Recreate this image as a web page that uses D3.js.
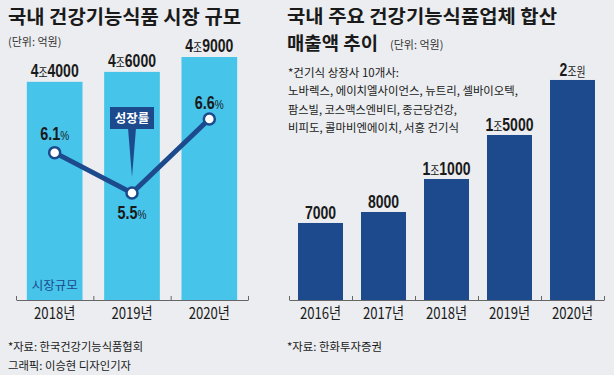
<!DOCTYPE html>
<html>
<head>
<meta charset="utf-8">
<script src="https://cdn.jsdelivr.net/npm/d3@7"></script>
<style>
  html, body { margin: 0; padding: 0; background: #ebedf0; }
  svg { display: block; }
  .kr { font-family: "Noto Sans CJK KR", "Noto Sans", sans-serif; }
  .num { font-family: "Liberation Sans Narrow", "Liberation Sans", Arial, sans-serif; }
</style>
</head>
<body>
<svg id="chart"></svg>
<script>
// left chart: market size
const marketYears = ['2018년', '2019년', '2020년']
const marketSize = [44000, 46000, 49000]
const marketLabels = ['4조4000', '4조6000', '4조9000']
const growthRate = [6.1, 5.5, 6.6]

// right chart: sales of 10 listed companies
const salesYears = ['2016년', '2017년', '2018년', '2019년', '2020년']
const salesTotal = [7000, 8000, 11000, 15000, 20000]
const salesLabels = ['7000', '8000', '1조1000', '1조5000', '2조원']

const noteLines = [
  '*건기식 상장사 10개사:',
  '노바렉스, 에이치엘사이언스, 뉴트리, 셀바이오텍,',
  '팜스빌, 코스맥스엔비티, 종근당건강,',
  '비피도, 콜마비엔에이치, 서흥 건기식'
]

const W = 614, H = 375
const navy = '#1c4a8c'
const sky = '#46c4ea'
const ink = '#1a1a1a'

const svg = d3.select('#chart')
  .attr('width', W)
  .attr('height', H)

svg.append('rect').attr('width', W).attr('height', H).attr('fill', '#ebedf0')

// squeeze single-run text horizontally, the graphic uses a condensed face
function condense(sel, k) {
  sel.each(function () {
    const len = this.getComputedTextLength()
    d3.select(this).attr('textLength', len * k).attr('lengthAdjust', 'spacingAndGlyphs')
  })
}

// mixed-size label, squeezed with a transform so tspans keep their order
function mixedLabel(sel, parts, x, y, size, k) {
  const t = sel.append('text')
    .attr('class', 'num')
    .attr('transform', `translate(${x},${y}) scale(${k},1)`)
    .attr('text-anchor', 'middle')
    .attr('fill', ink)
    .attr('font-size', size)
    .attr('font-weight', 'bold')
  parts.forEach(p => {
    const s = t.append('tspan').text(p.text)
    if (p.small) {
      s.attr('font-size', size * p.small).attr('font-weight', 'normal')
      if (p.kr) s.attr('class', 'kr')
    }
  })
  return t
}

// "4조4000" -> numbers bold, 조/원 smaller
function valueLabel(sel, str, x, y, size) {
  const parts = str.split(/(조원|조)/).filter(s => s)
    .map(s => s.startsWith('조') ? { text: s, small: 0.7, kr: true } : { text: s })
  mixedLabel(sel, parts, x, y, size, 0.78)
}

// ---------- left ----------
const left = svg.append('g')

left.append('text').attr('class', 'kr')
  .attr('x', 8).attr('y', 24)
  .attr('font-size', 19.5).attr('font-weight', 'bold').attr('fill', ink)
  .attr('textLength', 233).attr('lengthAdjust', 'spacingAndGlyphs')
  .text('국내 건강기능식품 시장 규모')

left.append('text').attr('class', 'kr')
  .attr('x', 8).attr('y', 46)
  .attr('font-size', 11).attr('fill', '#333')
  .text('(단위: 억원)')

const x1 = d3.scaleBand()
  .domain(marketYears)
  .range([16, 248])
  .paddingInner(0.28)
  .paddingOuter(0.14)

const y1 = d3.scaleLinear()
  .domain([0, 60500])
  .range([300, 0])

const yRate = d3.scaleLinear()
  .domain([5.5, 6.6])
  .range([193, 119])

left.selectAll('.mbar')
  .data(marketSize)
  .join('rect')
  .attr('class', 'mbar')
  .attr('x', (d, i) => x1(marketYears[i]))
  .attr('y', d => y1(d))
  .attr('width', x1.bandwidth())
  .attr('height', d => y1(0) - y1(d))
  .attr('fill', sky)

marketSize.forEach((d, i) => {
  valueLabel(left, marketLabels[i], x1(marketYears[i]) + x1.bandwidth() / 2, y1(d) - 5, 18)
})

left.append('text').attr('class', 'kr')
  .attr('x', x1(marketYears[0]) + x1.bandwidth() / 2).attr('y', 290)
  .attr('text-anchor', 'middle')
  .attr('font-size', 12.5).attr('fill', navy)
  .text('시장규모')

// axes: year labels + boundary ticks
const edge1 = d3.scaleLinear().domain([0, marketYears.length]).range([16, 248])
left.append('g')
  .attr('transform', 'translate(0,300)')
  .call(d3.axisTop(edge1).tickValues(d3.range(marketYears.length + 1)).tickSize(4).tickSizeOuter(0).tickFormat(''))
  .call(g => g.selectAll('path,line').attr('stroke', '#666'))

left.append('g')
  .attr('transform', 'translate(0,300)')
  .call(d3.axisBottom(x1).tickSize(0).tickPadding(8))
  .call(g => g.select('.domain').remove())
  .call(g => g.selectAll('text').attr('class', 'kr').attr('font-size', 16).attr('fill', ink))
  .call(g => condense(g.selectAll('text'), 0.82))

// callout
const cx = x1(marketYears[1]) + x1.bandwidth() / 2
left.append('path')
  .attr('d', `M${cx - 4},128 L${cx + 4},128 L${cx},177 Z`)
  .attr('fill', navy)
left.append('rect')
  .attr('x', cx - 22).attr('y', 107).attr('width', 44).attr('height', 22)
  .attr('fill', navy)
left.append('text').attr('class', 'kr')
  .attr('x', cx).attr('y', 122.5)
  .attr('text-anchor', 'middle')
  .attr('font-size', 12.5).attr('font-weight', 'bold').attr('fill', '#fff')
  .text('성장률')

// growth line
const line = d3.line()
  .x((d, i) => x1(marketYears[i]) + x1.bandwidth() / 2)
  .y(d => yRate(d))

left.append('path')
  .datum(growthRate)
  .attr('d', line)
  .attr('fill', 'none')
  .attr('stroke', navy)
  .attr('stroke-width', 5)

left.selectAll('.dot')
  .data(growthRate)
  .join('circle')
  .attr('class', 'dot')
  .attr('cx', (d, i) => x1(marketYears[i]) + x1.bandwidth() / 2)
  .attr('cy', d => yRate(d))
  .attr('r', 5.5)
  .attr('fill', '#fff')
  .attr('stroke', navy)
  .attr('stroke-width', 2.5)

const rateOffset = [-13, 26, -10]
growthRate.forEach((d, i) => {
  mixedLabel(left,
    [{ text: d3.format('.1f')(d) }, { text: '%', small: 0.7 }],
    x1(marketYears[i]) + x1.bandwidth() / 2, yRate(d) + rateOffset[i], 18, 0.8)
})

left.append('text').attr('class', 'kr')
  .attr('x', 8).attr('y', 351)
  .attr('font-size', 11.5).attr('fill', ink)
  .attr('textLength', 135).attr('lengthAdjust', 'spacingAndGlyphs')
  .text('*자료: 한국건강기능식품협회')
left.append('text').attr('class', 'kr')
  .attr('x', 8).attr('y', 370)
  .attr('font-size', 11.5).attr('fill', ink)
  .attr('textLength', 123).attr('lengthAdjust', 'spacingAndGlyphs')
  .text('그래픽: 이승현 디자인기자')

// ---------- right ----------
const right = svg.append('g')

right.append('text').attr('class', 'kr')
  .attr('x', 287).attr('y', 23)
  .attr('font-size', 18.5).attr('font-weight', 'bold').attr('fill', ink)
  .attr('textLength', 270).attr('lengthAdjust', 'spacingAndGlyphs')
  .text('국내 주요 건강기능식품업체 합산')
right.append('text').attr('class', 'kr')
  .attr('x', 287).attr('y', 50)
  .attr('font-size', 18.5).attr('font-weight', 'bold').attr('fill', ink)
  .attr('textLength', 91).attr('lengthAdjust', 'spacingAndGlyphs')
  .text('매출액 추이')
right.append('text').attr('class', 'kr')
  .attr('x', 390).attr('y', 49)
  .attr('font-size', 11).attr('fill', '#333')
  .text('(단위: 억원)')

const noteWidths = [111, 230, 169, 171]
right.selectAll('.note')
  .data(noteLines)
  .join('text')
  .attr('class', 'note kr')
  .attr('x', 288)
  .attr('y', (d, i) => 77 + i * 18.3)
  .attr('font-size', 11.5)
  .attr('fill', ink)
  .attr('textLength', (d, i) => noteWidths[i])
  .attr('lengthAdjust', 'spacingAndGlyphs')
  .text(d => d)

const x2 = d3.scaleBand()
  .domain(salesYears)
  .range([289, 604])
  .paddingInner(0.286)
  .paddingOuter(0.143)

const y2 = d3.scaleLinear()
  .domain([0, 27270])
  .range([300, 0])

right.selectAll('.sbar')
  .data(salesTotal)
  .join('rect')
  .attr('class', 'sbar')
  .attr('x', (d, i) => x2(salesYears[i]))
  .attr('y', d => y2(d))
  .attr('width', x2.bandwidth())
  .attr('height', d => y2(0) - y2(d))
  .attr('fill', navy)

salesTotal.forEach((d, i) => {
  valueLabel(right, salesLabels[i], x2(salesYears[i]) + x2.bandwidth() / 2, y2(d) - 4, 18)
})

const edge2 = d3.scaleLinear().domain([0, salesYears.length]).range([289, 604])
right.append('g')
  .attr('transform', 'translate(0,300)')
  .call(d3.axisTop(edge2).tickValues(d3.range(salesYears.length + 1)).tickSize(4).tickSizeOuter(0).tickFormat(''))
  .call(g => g.selectAll('path,line').attr('stroke', '#666'))

right.append('g')
  .attr('transform', 'translate(0,300)')
  .call(d3.axisBottom(x2).tickSize(0).tickPadding(8))
  .call(g => g.select('.domain').remove())
  .call(g => g.selectAll('text').attr('class', 'kr').attr('font-size', 16).attr('fill', ink))
  .call(g => condense(g.selectAll('text'), 0.82))

right.append('text').attr('class', 'kr')
  .attr('x', 287).attr('y', 351)
  .attr('font-size', 11.5).attr('fill', ink)
  .attr('textLength', 95).attr('lengthAdjust', 'spacingAndGlyphs')
  .text('*자료: 한화투자증권')
</script>
</body>
</html>
